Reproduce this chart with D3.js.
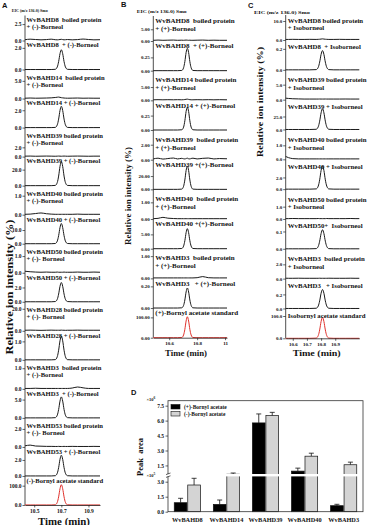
<!DOCTYPE html>
<html>
<head>
<meta charset="UTF-8">
<title>EIC traces and peak areas</title>
<script src="https://d3js.org/d3.v7.min.js"></script>
<style>
    body { margin: 0; background: #fff; }
    text { font-family: "Liberation Serif", "DejaVu Serif", serif; font-weight: bold; fill: #111; }
</style>
</head>
<body>
<div id="chart"></div>
<script>
// ---------- panel A : (-)-borneol ----------
var timesA = [10.432, 10.47, 10.51, 10.55, 10.59, 10.625, 10.655, 10.67, 10.68, 10.69, 10.70,
              10.71, 10.72, 10.73, 10.745, 10.78, 10.82, 10.86, 10.90, 10.94, 10.985];
var labelsA = [
    ["WvBAHD8  boiled protein", "+ (-)-Borneol"], ["WvBAHD8  + (-)-Borneol"],
    ["WvBAHD14  boiled protein", "+ (-)-Borneol"], ["WvBAHD14 + (-)-Borneol"],
    ["WvBAHD39 boiled protein", "+ (-)-Borneol"], ["WvBAHD39 + (-)-Borneol"],
    ["WvBAHD40 boiled protein", "+ (-)-Borneol"], ["WvBAHD40 + (-)-Borneol"],
    ["WvBAHD50 boiled protein", "+ (-)- Borneol"], ["WvBAHD50 + (-)-Borneol"],
    ["WvBAHD28 boiled protein", "+ (-)- Borneol"], ["WvBAHD28 + (-)-Borneol"],
    ["WvBAHD3  boiled protein", "+ (-)-Borneol"], ["WvBAHD3  + (-)-Borneol"],
    ["WvBAHD53 boiled protein", "+ (-)- Borneol"], ["WvBAHD53 + (-)-Borneol"],
    ["(-)-Bornyl acetate standard"]
];
var ticksA = [2.5, 2.0, 5.0, 2.0, 2.0, 20.0, 1.0, 10.0, 1.0, 2.0, 20.0, 1.0, 1.0, 5.0, 2.0, 2.0, 100.0];
var yMaxA = [3.96, 2.4, 7.34, 3.0, 5.6, 32.5, 1.37, 19, 1.56, 3.64, 23.6, 1.41, 1.26, 7.1, 2.89, 3.25, 134.7];
var tracesA = [
    [0.12,0.2,0.15,0.1,0.14,0.2,0.12,0.1,0.12,0.15,0.18,0.14,0.1,0.12,0.15,0.1,0.14,0.22,0.15,0.1,0.12],
    [0,0,0,0,0,0,0.02,0.24,0.73,1.46,1.82,1.46,0.73,0.24,0.02,0,0,0,0,0,0],
    [0.1,0.15,0.1,0.12,0.15,0.2,0.3,0.38,0.42,0.35,0.25,0.2,0.15,0.12,0.1,0.12,0.15,0.1,0.12,0.1,0.1],
    [0,0,0,0,0,0,0.02,0.32,0.98,1.97,2.46,1.97,0.98,0.32,0.02,0,0,0,0,0,0],
    [0.1,0.12,0.08,0.1,0.12,0.1,0.08,0.1,0.12,0.1,0.08,0.1,0.12,0.1,0.08,0.1,0.12,0.1,0.08,0.1,0.1],
    [0,0,0,0,0,0,0.3,3.9,12,24,30,24,12,3.9,0.3,0,0,0,0,0,0],
    [0.02,0.03,0.06,0.09,0.05,0.03,0.02,0.02,0.02,0.02,0.02,0.02,0.02,0.02,0.02,0.02,0.03,0.02,0.02,0.02,0.02],
    [0,0,0,0,0,0,0.15,1.9,5.9,11.8,14.8,11.8,5.9,1.9,0.15,0,0,0,0,0,0],
    [0.09,0.06,0.04,0.03,0.04,0.03,0.03,0.04,0.03,0.03,0.03,0.03,0.04,0.03,0.03,0.03,0.04,0.03,0.03,0.04,0.03],
    [0,0,0,0,0,0,0.03,0.35,1.08,2.16,2.7,2.16,1.08,0.35,0.03,0,0,0,0,0,0],
    [0.5,0.6,0.5,0.4,0.5,0.6,0.5,0.5,0.5,0.5,0.6,0.5,0.5,0.4,0.5,0.5,0.6,0.5,0.5,0.5,0.5],
    [0,0,0,0,0,0,0.01,0.17,0.52,1.03,1.29,1.03,0.52,0.17,0.01,0,0,0,0,0,0],
    [0.02,0.02,0.03,0.02,0.02,0.02,0.02,0.02,0.02,0.02,0.02,0.02,0.02,0.02,0.02,0.04,0.09,0.05,0.02,0.02,0.02],
    [0,0,0,0,0,0,0.06,0.74,2.29,4.58,5.73,4.58,2.29,0.74,0.06,0,0,0,0,0,0],
    [0.12,0.2,0.1,0.08,0.06,0.06,0.05,0.05,0.06,0.05,0.05,0.05,0.06,0.05,0.05,0.06,0.05,0.05,0.05,0.06,0.05],
    [0,0,0,0,0,0,0.03,0.34,1.04,2.07,2.59,2.07,1.04,0.34,0.03,0,0,0,0,0,0],
    [0,0,0,0,0,0,1,13.7,42,84,105,84,42,13.7,1,0,0,0,0,0,0]
];
var timeDomainA = [10.432, 10.985];
var timeTicksA = [10.5, 10.7, 10.9];

// ---------- panel B : (+)-borneol ----------
var timesB = [10.486, 10.52, 10.555, 10.59, 10.63, 10.66, 10.69, 10.703, 10.712, 10.721, 10.73,
              10.739, 10.748, 10.757, 10.77, 10.80, 10.84, 10.88, 10.92, 10.96, 11.014];
var labelsB = [
    ["WvBAHD8  boiled protein", "+ (+)-Borneol"], ["WvBAHD8  + (+)-Borneol"],
    ["WvBAHD14 boiled protein", "+ (+)-Borneol"], ["WvBAHD14 + (+)-Borneol"],
    ["WvBAHD39  boiled protein", "+ (+)-Borneol"], ["WvBAHD39 +(+)-Borneol"],
    ["WvBAHD40  boiled protein", "+ (+)-Borneol"], ["WvBAHD40 +(+)-Borneol"],
    ["WvBAHD3  boiled protein", "+ (+)-Borneol"], ["WvBAHD3   + (+)-Borneol"],
    ["(+)-Bornyl acetate standard"]
];
var ticksB = [5, 0.25, 5, 0.25, 2, 20, 1, 5, 1, 0.2, 100];
var yMaxB = [11.1, 0.489, 9.77, 0.451, 3.47, 39.1, 1.56, 9.09, 1.17, 0.24, 128];
var tracesB = [
    [0.3,0.4,0.3,0.35,0.4,0.3,0.35,0.3,0.35,0.4,0.35,0.3,0.35,0.3,0.3,0.35,0.4,0.3,0.35,0.3,0.3],
    [0,0,0,0,0,0,0.004,0.055,0.17,0.34,0.42,0.34,0.17,0.055,0.004,0,0,0,0,0,0],
    [0.2,0.25,0.2,0.25,0.2,0.25,0.2,0.25,0.3,0.4,0.45,0.35,0.25,0.2,0.2,0.25,0.2,0.25,0.2,0.25,0.2],
    [0,0,0,0,0,0,0.004,0.05,0.16,0.32,0.394,0.32,0.16,0.05,0.004,0,0,0,0,0,0],
    [0.1,0.2,0.08,0.15,0.22,0.1,0.18,0.12,0.1,0.15,0.2,0.12,0.1,0.16,0.2,0.1,0.18,0.22,0.1,0.15,0.12],
    [0,0,0,0,0,0,0.35,4.6,14.1,28.2,35.2,28.2,14.1,4.6,0.35,0,0,0,0,0,0],
    [0.02,0.04,0.1,0.05,0.03,0.02,0.02,0.02,0.02,0.02,0.02,0.02,0.02,0.02,0.02,0.02,0.02,0.02,0.02,0.02,0.02],
    [0,0,0,0,0,0,0.07,0.91,2.8,5.6,7.0,5.6,2.8,0.91,0.07,0,0,0,0,0,0],
    [0.02,0.02,0.02,0.02,0.02,0.02,0.02,0.02,0.02,0.02,0.02,0.02,0.02,0.02,0.02,0.03,0.08,0.03,0.02,0.02,0.02],
    [0,0,0,0,0,0,0.002,0.024,0.074,0.148,0.185,0.148,0.074,0.024,0.002,0,0,0,0,0,0],
    [0,0,0,0,0,0,1,13.4,41,82,103,82,41,13.4,1,0,0,0,0,0,0]
];
var timeDomainB = [10.486, 11.014];
var timeTicksB = [10.6, 10.8, 11];

// ---------- panel C : isoborneol ----------
var timesC = [10.55, 10.57, 10.6, 10.64, 10.68, 10.72, 10.765, 10.78, 10.79, 10.80, 10.81,
              10.82, 10.83, 10.84, 10.855, 10.89, 10.93, 10.97, 11.01, 11.04, 11.07];
var labelsC = [
    ["WvBAHD8 boiled protein", "+ Isoborneol"], ["WvBAHD8  + Isoborneol"],
    ["WvBAHD39 boiled protein", "+ Isoborneol"], ["WvBAHD39 + Isoborneol"],
    ["WvBAHD40 boiled protein", "+ Isoborneol"], ["WvBAHD40 + Isoborneol"],
    ["WvBAHD50 boiled protein", "+ Isoborneol"], ["WvBAHD50+  Isoborneol"],
    ["WvBAHD3  boiled protein", "+ Isoborneol"], ["WvBAHD3   + Isoborneol"],
    ["Isobornyl acetate standard"]
];
var ticksC = [10, 0.2, 5, 25, 1, 2, 1, 0.1, 2, 0.2, 100];
var yMaxC = [13.7, 0.248, 8.67, 50, 1.86, 4.44, 2.11, 0.15, 3.64, 0.37, 116.6];
var tracesC = [
    [0.3,0.3,0.35,0.3,0.3,0.35,0.3,0.35,0.4,0.5,0.6,0.5,0.4,0.35,0.3,0.3,0.35,0.3,0.3,0.3,0.3],
    [0,0,0,0,0,0,0.002,0.024,0.074,0.147,0.184,0.147,0.074,0.024,0.002,0,0,0,0,0,0],
    [0.5,0.4,0.3,0.25,0.2,0.2,0.2,0.2,0.22,0.2,0.2,0.2,0.22,0.2,0.2,0.2,0.2,0.22,0.2,0.2,0.2],
    [0,0,0,0,0,0,0.4,5.2,16,32,40,32,16,5.2,0.4,0,0,0,0,0,0],
    [0.2,0.12,0.05,0.03,0.03,0.03,0.03,0.03,0.03,0.03,0.03,0.03,0.03,0.03,0.03,0.03,0.03,0.03,0.03,0.03,0.03],
    [0,0,0,0,0,0,0.04,0.52,1.59,3.18,3.98,3.18,1.59,0.52,0.04,0,0,0,0,0,0],
    [0.03,0.03,0.04,0.03,0.03,0.03,0.03,0.04,0.03,0.03,0.03,0.03,0.03,0.04,0.03,0.03,0.03,0.03,0.04,0.03,0.03],
    [0,0,0,0,0,0,0.001,0.014,0.044,0.088,0.11,0.088,0.044,0.014,0.001,0,0,0,0,0,0],
    [0.06,0.05,0.05,0.06,0.05,0.05,0.05,0.05,0.06,0.05,0.05,0.05,0.05,0.05,0.06,0.05,0.05,0.05,0.06,0.05,0.05],
    [0,0,0,0,0,0,0.003,0.035,0.108,0.216,0.27,0.216,0.108,0.035,0.003,0,0,0,0,0,0],
    [0,0,0,0,0,0,0.9,12.2,37.6,75,94,75,37.6,12.2,0.9,0,0,0,0,0,0]
];
var timeDomainC = [10.55, 11.07];
var timeTicksC = [10.6, 10.7, 10.8, 10.9];

// ---------- panel D : peak areas ----------
var groupsD = ["WvBAHD8", "WvBAHD14", "WvBAHD39", "WvBAHD40", "WvBAHD3"];
var seriesD = ["(+)-Bornyl acetate", "(-)-Bornyl acetate"];
var plusD = [0.9e5, 0.73e5, 5.77e6, 0.93e6, 0.6e5];
var plusErrD = [0.44e5, 0.44e5, 0.9e6, 0.3e6, 0.14e5];
var minusD = [2.67e5, 3.75e5, 6.5e6, 2.43e6, 1.57e6];
var minusErrD = [0.67e5, 0.12e5, 0.33e6, 0.3e6, 0.26e6];
var upperTicksD = [1.5e6, 3.0e6, 4.5e6, 6.0e6, 7.5e6];
var lowerTicksD = [0, 1.5e5, 3.0e5];

var W = 370, H = 525;
var svg = d3.select("#chart").append("svg")
    .attr("width", W)
    .attr("height", H);

// draws one stacked EIC panel
function drawPanel(p) {
    var g = svg.append("g");
    var x = d3.scaleLinear().domain(p.domain).range([p.x0, p.x1]);
    var n = p.traces.length;
    var baseOf = function(i) { return p.base0 + i * p.step; };
    var last = baseOf(n - 1);

    // continuous left axis line
    g.append("line")
        .attr("x1", p.x0).attr("x2", p.x0)
        .attr("y1", p.base0 - 25).attr("y2", last)
        .attr("stroke", "#222").attr("stroke-width", 0.8);

    p.traces.forEach(function(vals, i) {
        var b = baseOf(i);
        var y = d3.scaleLinear().domain([0, p.yMax[i]]).range([b, b - 26]);
        var ax = g.append("g")
            .attr("transform", "translate(" + p.x0 + ",0)")
            .call(d3.axisLeft(y).tickValues([0, p.ticks[i]]).tickFormat(d3.format(p.fmt))
                .tickSize(2.5).tickPadding(1));
        ax.select(".domain").remove();
        ax.selectAll("line").attr("stroke", "#222").attr("stroke-width", 0.7);
        ax.selectAll("text").style("font-size", p.tickFont + "px").style("font-family", null);

        var pts = p.times.map(function(t, k) { return [t, vals[k]]; });
        var line = d3.line()
            .x(function(d) { return x(d[0]); })
            .y(function(d) { return y(d[1]); })
            .curve(d3.curveMonotoneX);
        g.append("path")
            .datum(pts)
            .attr("d", line)
            .attr("fill", "none")
            .attr("stroke", i === n - 1 ? "#e0312b" : "#1a1a1a")
            .attr("stroke-width", 1);

        var lab = p.labels[i];
        lab.forEach(function(s, k) {
            var dy = lab.length === 1 ? p.lab[2] : p.lab[k];
            g.append("text")
                .attr("x", p.x0 + p.labDx)
                .attr("y", b - dy)
                .style("font-size", p.labFont + "px")
                .attr("xml:space", "preserve")
                .text(s);
        });
    });

    // time axis at the bottom
    var xa = g.append("g")
        .attr("transform", "translate(0," + last + ")")
        .call(d3.axisBottom(x).tickValues(p.timeTicks).tickFormat(d3.format("")).tickSize(2.5)
            .tickSizeOuter(0).tickPadding(1.5));
    xa.select(".domain").attr("stroke", "#222").attr("stroke-width", 0.8);
    xa.selectAll("line").attr("stroke", "#222").attr("stroke-width", 0.7);
    xa.selectAll("text").style("font-size", p.tickFont + "px").style("font-family", null);

    g.append("text")
        .attr("x", p.timeTitle[0]).attr("y", p.timeTitle[1])
        .attr("text-anchor", "middle")
        .attr("textLength", p.timeTitle[2]).attr("lengthAdjust", "spacingAndGlyphs")
        .style("font-size", p.timeTitle[3] + "px")
        .text("Time (min)");

    g.append("text")
        .attr("transform", "translate(" + p.yTitle[0] + "," + p.yTitle[1] + ") rotate(-90)")
        .attr("text-anchor", "middle")
        .attr("dy", "0.35em")
        .attr("textLength", p.yTitle[2]).attr("lengthAdjust", "spacingAndGlyphs")
        .style("font-size", p.yTitle[3] + "px")
        .text("Relative ion intensity (%)");

    g.append("text")
        .attr("x", p.eic[0]).attr("y", p.eic[1])
        .attr("textLength", p.eic[2]).attr("lengthAdjust", "spacingAndGlyphs")
        .style("font-size", "5px")
        .text("EIC (m/z 136.0) Smo");

    g.append("text")
        .attr("x", p.letter[0]).attr("y", p.letter[1])
        .style("font-family", "Liberation Sans, Arial, sans-serif")
        .style("font-size", "7.5px")
        .text(p.letter[2]);
}

drawPanel({
    times: timesA, traces: tracesA, labels: labelsA, ticks: ticksA, yMax: yMaxA,
    domain: timeDomainA, timeTicks: timeTicksA, fmt: ".1f",
    x0: 25, x1: 100, base0: 40.5, step: 29.03,
    tickFont: 5.5, labFont: 6.6, labDx: 1.5, lab: [18.9, 11.9, 22.2],
    timeTitle: [64, 524.5, 52, 9.5], yTitle: [9, 287, 135, 10.5],
    eic: [11.7, 12, 36], letter: [2, 8, "A"]
});
drawPanel({
    times: timesB, traces: tracesB, labels: labelsB, ticks: ticksB, yMax: yMaxB,
    domain: timeDomainB, timeTicks: timeTicksB, fmt: ".2f",
    x0: 153.3, x1: 227, base0: 41, step: 29.67,
    tickFont: 5, labFont: 7, labDx: 2, lab: [17.9, 10, 22.5],
    timeTitle: [186, 356, 42, 8], yTitle: [128, 196, 98, 8],
    eic: [136.7, 13, 50], letter: [121, 7, "B"]
});
drawPanel({
    times: timesC, traces: tracesC, labels: labelsC, ticks: ticksC, yMax: yMaxC,
    domain: timeDomainC, timeTicks: timeTicksC, fmt: ".1f",
    x0: 285.7, x1: 359.3, base0: 40, step: 29.83,
    tickFont: 5, labFont: 6.8, labDx: 2, lab: [17.2, 9.6, 20.5],
    timeTitle: [316.7, 355.5, 48, 8.5], yTitle: [260, 102, 110, 8.5],
    eic: [254, 14, 56], letter: [248, 8, "C"]
});

// ---------- panel D ----------
var gD = svg.append("g");
var xD = d3.scaleBand().domain(groupsD).range([168, 363]).paddingInner(0.33).paddingOuter(0.16);
var xSub = d3.scaleBand().domain(seriesD).range([0, xD.bandwidth()]).paddingInner(0.06);
var yLow = d3.scaleLinear().domain([0, 3.9e5]).range([511.7, 472.7]);
var yUp = d3.scaleLinear().domain([0.44e6, 8.0e6]).range([476, 400.7]);
function yD(v) { return v < 4.4e5 ? yLow(v) : yUp(v); }

var barData = [];
groupsD.forEach(function(gName, i) {
    barData.push({g: gName, s: seriesD[0], v: plusD[i], e: plusErrD[i]});
    barData.push({g: gName, s: seriesD[1], v: minusD[i], e: minusErrD[i]});
});
var fillD = d3.scaleOrdinal().domain(seriesD).range(["#000", "#d4d4d4"]);

// error bars (drawn under the bars, only the upper half shows)
var eb = gD.selectAll(".err").data(barData).enter().append("g");
eb.append("line")
    .attr("x1", function(d) { return xD(d.g) + xSub(d.s) + xSub.bandwidth() / 2; })
    .attr("x2", function(d) { return xD(d.g) + xSub(d.s) + xSub.bandwidth() / 2; })
    .attr("y1", function(d) { return yD(d.v); })
    .attr("y2", function(d) { return yD(d.v + d.e); })
    .attr("stroke", "#111").attr("stroke-width", 0.8);
eb.append("line")
    .attr("x1", function(d) { return xD(d.g) + xSub(d.s) + xSub.bandwidth() / 2 - 2.5; })
    .attr("x2", function(d) { return xD(d.g) + xSub(d.s) + xSub.bandwidth() / 2 + 2.5; })
    .attr("y1", function(d) { return yD(d.v + d.e); })
    .attr("y2", function(d) { return yD(d.v + d.e); })
    .attr("stroke", "#111").attr("stroke-width", 0.8);

gD.selectAll(".bar").data(barData).enter().append("rect")
    .attr("x", function(d) { return xD(d.g) + xSub(d.s); })
    .attr("width", xSub.bandwidth())
    .attr("y", function(d) { return yD(d.v); })
    .attr("height", function(d) { return yD(0) - yD(d.v); })
    .attr("fill", function(d) { return fillD(d.s); })
    .attr("stroke", "#111").attr("stroke-width", 0.7);

// frame
gD.append("rect")
    .attr("x", 168).attr("y", 400.7).attr("width", 195).attr("height", 111)
    .attr("fill", "none").attr("stroke", "#333").attr("stroke-width", 0.8);

// axis break
gD.append("rect")
    .attr("x", 165).attr("y", 474).attr("width", 196.5).attr("height", 2.4)
    .attr("fill", "#fff");
[473.8, 476.6].forEach(function(yy) {
    gD.append("line")
        .attr("x1", 166).attr("x2", 170.5).attr("y1", yy + 0.8).attr("y2", yy - 0.8)
        .attr("stroke", "#222").attr("stroke-width", 0.7);
});

var axUp = gD.append("g").attr("transform", "translate(168,0)")
    .call(d3.axisLeft(yUp).tickValues(upperTicksD).tickFormat(function(d) { return (d / 1e6).toFixed(1); })
        .tickSize(2.5).tickPadding(1.5));
var axLow = gD.append("g").attr("transform", "translate(168,0)")
    .call(d3.axisLeft(yLow).tickValues(lowerTicksD).tickFormat(function(d) { return (d / 1e5).toFixed(1); })
        .tickSize(2.5).tickPadding(1.5));
[axUp, axLow].forEach(function(ax) {
    ax.select(".domain").remove();
    ax.selectAll("line").attr("stroke", "#222").attr("stroke-width", 0.7);
    ax.selectAll("text").style("font-size", "5.5px").style("font-family", null);
});

// multipliers
[[146.5, 400.5, "6"], [146.5, 477, "5"]].forEach(function(m) {
    var t = gD.append("text").attr("x", m[0]).attr("y", m[1]).style("font-size", "4.5px").text("×10");
    t.append("tspan").attr("dy", -1.8).style("font-size", "3.5px").text(m[2]);
});

gD.selectAll(".xl").data(groupsD).enter().append("text")
    .attr("x", function(d) { return xD(d) + xD.bandwidth() / 2; })
    .attr("y", 522)
    .attr("text-anchor", "middle")
    .style("font-size", "6.3px")
    .text(function(d) { return d; });

gD.append("text")
    .attr("transform", "translate(140,457) rotate(-90)")
    .attr("text-anchor", "middle")
    .attr("dy", "0.35em")
    .attr("xml:space", "preserve")
    .style("font-size", "8.5px")
    .text("Peak  area");

// legend
seriesD.forEach(function(s, i) {
    gD.append("rect")
        .attr("x", 171).attr("y", 404.5 + i * 7).attr("width", 9).attr("height", 4.5)
        .attr("fill", fillD(s)).attr("stroke", "#111").attr("stroke-width", 0.6);
    gD.append("text")
        .attr("x", 184).attr("y", 408.8 + i * 7)
        .style("font-size", "5.5px")
        .text(s);
});

gD.append("text")
    .attr("x", 131).attr("y", 394.5)
    .style("font-family", "Liberation Sans, Arial, sans-serif")
    .style("font-size", "7.5px")
    .text("D");
</script>
</body>
</html>
